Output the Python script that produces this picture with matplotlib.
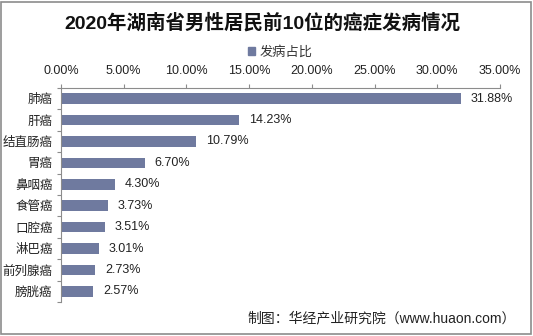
import matplotlib
matplotlib.use("Agg")
import matplotlib.pyplot as plt
from matplotlib.patches import Patch, Rectangle
from matplotlib.ticker import FuncFormatter, MultipleLocator

plt.rcParams['font.family'] = ['Liberation Sans', 'Noto Sans CJK SC', 'DejaVu Sans']

categories = ['肺癌', '肝癌', '结直肠癌', '胃癌', '鼻咽癌', '食管癌', '口腔癌', '淋巴癌', '前列腺癌', '膀胱癌']
values = [31.88, 14.23, 10.79, 6.70, 4.30, 3.73, 3.51, 3.01, 2.73, 2.57]
series_name = '发病占比'
title = '2020年湖南省男性居民前10位的癌症发病情况'
source = '制图：华经产业研究院（www.huaon.com）'

W, H = 533, 336
fig = plt.figure(figsize=(W / 100, H / 100), dpi=100)
ax = fig.add_axes([61 / W, 1 - 302 / H, 439 / W, 214 / H])

bar_color = '#6F7A9F'
spine_color = '#8C8C8C'
ypos = list(range(len(categories)))
ax.barh(ypos, values, height=0.5, color=bar_color)

for y, v in zip(ypos, values):
    ax.annotate(f'{v:.2f}%', (v, y), xytext=(7, 0), textcoords='offset points',
                va='center', ha='left', fontsize=9, color='#222222')

ax.set_xlim(0, 35)
ax.set_ylim(len(categories) - 0.5, -0.5)
ax.xaxis.set_major_locator(MultipleLocator(5))
ax.xaxis.set_major_formatter(FuncFormatter(lambda x, p: f'{x:.2f}%'))
ax.xaxis.tick_top()
ax.tick_params(axis='x', direction='out', length=3, width=0.8, color=spine_color,
               labelsize=9, labelcolor='#222222', pad=5)

ax.set_yticks(ypos)
ax.set_yticklabels(categories)
ax.set_yticks([i - 0.5 for i in range(len(categories) + 1)], minor=True)
ax.tick_params(axis='y', which='major', length=0, labelsize=9, labelcolor='#222222', pad=6)
ax.tick_params(axis='y', which='minor', length=3, width=0.8, color=spine_color)

for side in ('right', 'bottom'):
    ax.spines[side].set_visible(False)
for side in ('top', 'left'):
    ax.spines[side].set_color(spine_color)
    ax.spines[side].set_linewidth(0.8)

fig.text(262 / W, 1 - 23 / H, title, ha='center', va='center', fontsize=14,
         fontweight='bold', color='#111111')

fig.legend(handles=[Patch(color=bar_color, label=series_name)],
           loc='center', bbox_to_anchor=(280 / W, 1 - 52 / H), frameon=False,
           handlelength=0.6, handleheight=0.6, handletextpad=0.3, fontsize=9.5,
           labelcolor='#333333')

fig.text(516 / W, 1 - 318 / H, source, ha='right', va='center', fontsize=10, color='#222222')

fig.add_artist(Rectangle((1 / W, 2 / H), 530 / W, 332 / H, transform=fig.transFigure,
                         fill=False, edgecolor='#8C8C8C', linewidth=1.2))

fig.savefig('out.png', dpi=100)
